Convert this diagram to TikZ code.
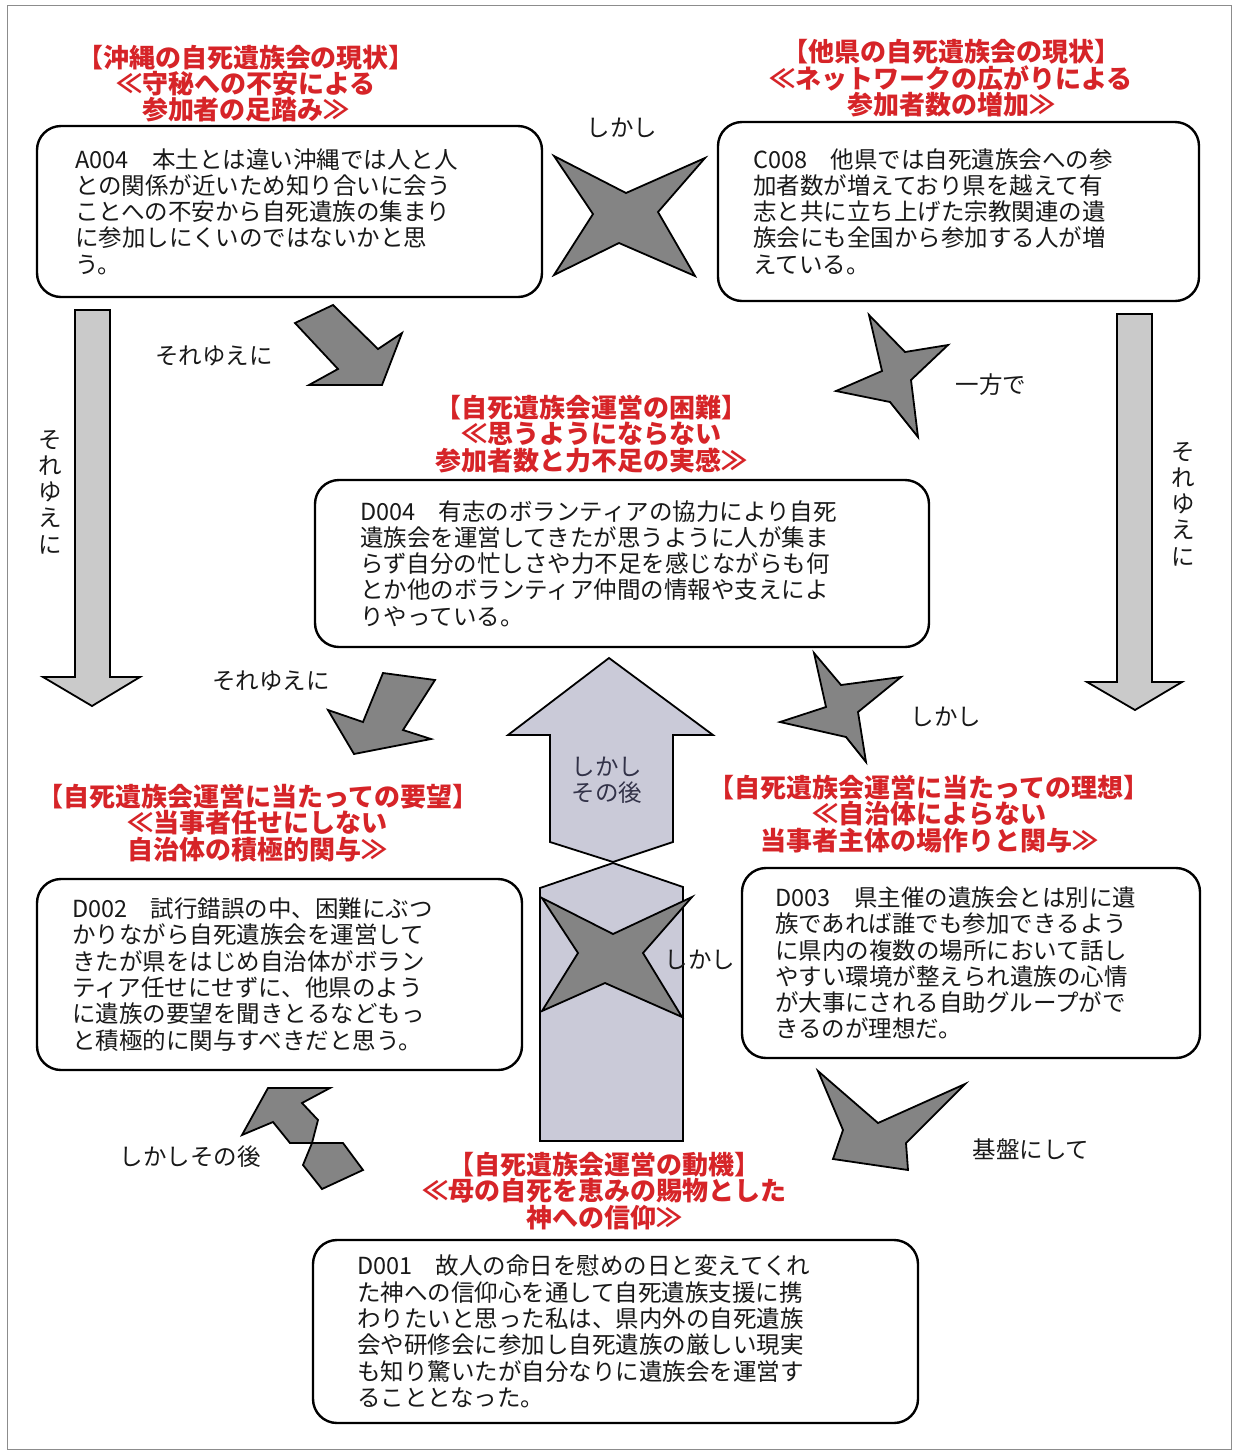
\documentclass[tikz,border=0pt]{standalone}
\usepackage{fontspec}
\setmainfont{Noto Sans CJK JP}
\definecolor{titlered}{RGB}{214,36,40}
\definecolor{darkfill}{RGB}{132,132,132}
\definecolor{lightfill}{RGB}{202,202,202}
\definecolor{lavfill}{RGB}{202,202,216}
\definecolor{bodyink}{RGB}{25,25,25}
\definecolor{colink}{RGB}{50,50,72}
\begin{document}
\begin{tikzpicture}[x=1pt,y=-1pt,
  box/.style={draw=black, line width=2.4pt, rounded corners=24pt, fill=white, inner sep=0pt},
  body/.style={font=\fontsize{23.5}{26.3}\selectfont, align=left, anchor=west, inner sep=0pt, text=bodyink},
  ttl/.style={font=\bfseries\fontsize{26}{26.4}\selectfont, align=center, inner sep=0pt, text=titlered},
  lbl/.style={font=\fontsize{23.5}{26.2}\selectfont, inner sep=0pt, text=bodyink, align=center},
  darkshape/.style={draw=black, line width=1.8pt, fill=darkfill, line join=miter},
  lightarrow/.style={draw=black, line width=1.8pt, fill=lightfill, line join=miter},
  lavarrow/.style={draw=black, line width=1.8pt, fill=lavfill, line join=miter}]
\useasboundingbox (0,0) rectangle (1233,1452);
\fill[white] (0,0) rectangle (1233,1452);
\draw[draw=black!45, line width=1pt] (7,5) rectangle (1231,1449);

% ---------- boxes ----------
\node[box, minimum width=505pt, minimum height=171pt] (boxA) at (289.5,211.5) {};
\node[box, minimum width=481pt, minimum height=179pt] (boxC) at (958.5,211.5) {};
\node[box, minimum width=614pt, minimum height=167pt] (boxD4) at (622,563.5) {};
\node[box, minimum width=485pt, minimum height=191pt] (boxD2) at (279.5,974.5) {};
\node[box, minimum width=458pt, minimum height=190pt] (boxD3) at (971,963) {};
\node[box, minimum width=605pt, minimum height=183pt] (boxD1) at (615.5,1331.5) {};

% ---------- box texts ----------
\node[body] (txtA) at (75,211.5) {A004　本土とは違い沖縄では人と人\\との関係が近いため知り合いに会う\\ことへの不安から自死遺族の集まり\\に参加しにくいのではないかと思\\う。};
\node[body] (txtC) at (753,211.5) {C008　他県では自死遺族会への参\\加者数が増えており県を越えて有\\志と共に立ち上げた宗教関連の遺\\族会にも全国から参加する人が増\\えている。};
\node[body] (txtD4) at (360,563.5) {D004　有志のボランティアの協力により自死\\遺族会を運営してきたが思うように人が集ま\\らず自分の忙しさや力不足を感じながらも何\\とか他のボランティア仲間の情報や支えによ\\りやっている。};
\node[body] (txtD2) at (72,974.5) {D002　試行錯誤の中、困難にぶつ\\かりながら自死遺族会を運営して\\きたが県をはじめ自治体がボラン\\ティア任せにせずに、他県のよう\\に遺族の要望を聞きとるなどもっ\\と積極的に関与すべきだと思う。};
\node[body] (txtD3) at (775,963) {D003　県主催の遺族会とは別に遺\\族であれば誰でも参加できるよう\\に県内の複数の場所において話し\\やすい環境が整えられ遺族の心情\\が大事にされる自助グループがで\\きるのが理想だ。};
\node[body] (txtD1) at (357,1331.5) {D001　故人の命日を慰めの日と変えてくれ\\た神への信仰心を通して自死遺族支援に携\\わりたいと思った私は、県内外の自死遺族\\会や研修会に参加し自死遺族の厳しい現実\\も知り驚いたが自分なりに遺族会を運営す\\ることとなった。};

% ---------- red titles ----------
\node[ttl] (ttlA) at (246,83.5) {【沖縄の自死遺族会の現状】\\≪守秘への不安による\\参加者の足踏み≫};
\node[ttl] (ttlC) at (951,78.5) {【他県の自死遺族会の現状】\\≪ネットワークの広がりによる\\参加者数の増加≫};
\node[ttl] (ttlD4) at (591,434) {【自死遺族会運営の困難】\\≪思うようにならない\\参加者数と力不足の実感≫};
\node[ttl] (ttlD2) at (258,823) {【自死遺族会運営に当たっての要望】\\≪当事者任せにしない\\自治体の積極的関与≫};
\node[ttl] (ttlD3) at (929,814) {【自死遺族会運営に当たっての理想】\\≪自治体によらない\\当事者主体の場作りと関与≫};
\node[ttl] (ttlD1) at (604,1191) {【自死遺族会運営の動機】\\≪母の自死を恵みの賜物とした\\神への信仰≫};

% ---------- vertical block arrows ----------
\draw[lightarrow] (75,310) -- (110,310) -- (110,677) -- (140,677) -- (92,706) -- (43,677) -- (75,677) -- cycle;
\draw[lightarrow] (1117,314) -- (1152,314) -- (1152,682) -- (1182,682) -- (1135,710) -- (1087,682) -- (1117,682) -- cycle;

% ---------- central column and up arrow ----------
\draw[lavarrow] (613,863) -- (683,887) -- (683,1141) -- (540,1141) -- (540,888) -- cycle;
\draw[lavarrow] (609,658) -- (713,735) -- (673,735) -- (673,842) -- (613,862) -- (550,842) -- (550,735) -- (508,735) -- cycle;
\draw[darkshape] (542,898) -- (613,934) -- (692,897) -- (643,953) -- (682,1017) -- (605,983) -- (542,1011) -- (578,953) -- cycle;

% ---------- dark shapes ----------
\draw[darkshape] (554,156) -- (626,193) -- (705,158) -- (658,212) -- (695,276) -- (619,243) -- (554,275) -- (593,214) -- cycle;
\draw[darkshape] (295,323) -- (333,305) -- (378,349) -- (402,333) -- (382,385) -- (309,385) -- (338,369) -- cycle;
\draw[darkshape] (869,315) -- (905,352) -- (948,345) -- (911,380) -- (918,437) -- (890,402) -- (836,391) -- (882,371) -- cycle;
\draw[darkshape] (383,673) -- (435,680) -- (403,730) -- (431,739) -- (354,754) -- (328,710) -- (363,722) -- cycle;
\draw[darkshape] (814,653) -- (841,685) -- (901,677) -- (858,712) -- (866,762) -- (846,737) -- (780,722) -- (826,707) -- cycle;
\draw[darkshape] (312,1143) -- (343,1143) -- (363,1170) -- (322,1189) -- (303,1165) -- cycle;
\draw[darkshape] (242,1135) -- (268,1088) -- (330,1088) -- (302,1103) -- (318,1120) -- (312,1143) -- (290,1143) -- (273,1122) -- cycle;
\draw[darkshape] (818,1071) -- (878,1123) -- (965,1084) -- (906,1143) -- (908,1170) -- (833,1159) -- (843,1130) -- cycle;

% ---------- labels ----------
\node[lbl] (l1) at (622,128) {しかし};
\node[lbl] (l2) at (214,356) {それゆえに};
\node[lbl] (l3) at (991,385) {一方で};
\node[lbl] (l4) at (50,492) {そ\\れ\\ゆ\\え\\に};
\node[lbl] (l5) at (1183,504) {そ\\れ\\ゆ\\え\\に};
\node[lbl] (l6) at (271,681) {それゆえに};
\node[lbl] (l7) at (946,717) {しかし};
\node[lbl, text=colink] (l8) at (607,780) {しかし\\その後};
\node[lbl] (l9) at (700,960) {しかし};
\node[lbl] (l10) at (190,1157) {しかしその後};
\node[lbl] (l11) at (1031,1149) {基盤にして};
\end{tikzpicture}
\end{document}
